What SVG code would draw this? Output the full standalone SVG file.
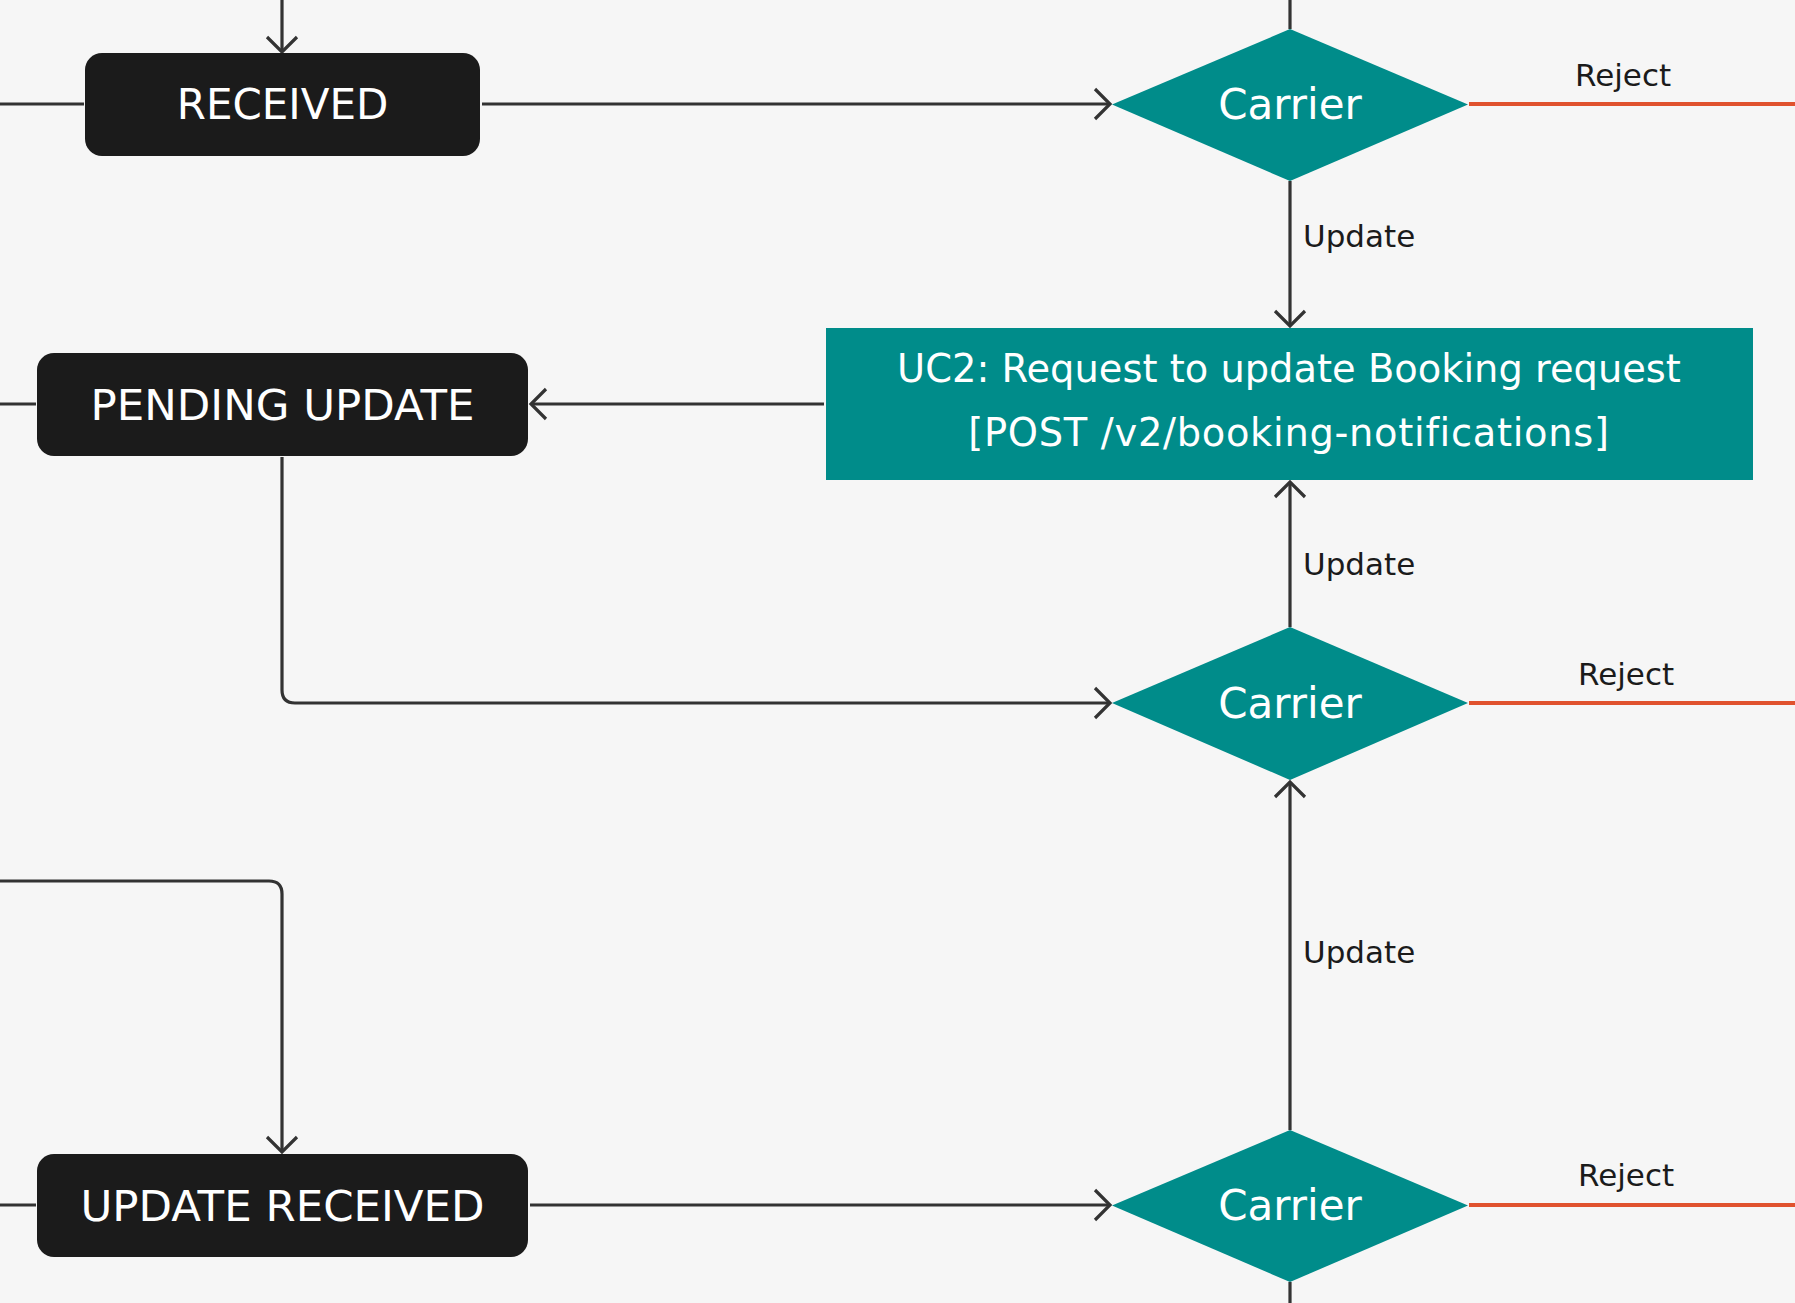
<svg xmlns="http://www.w3.org/2000/svg" width="1795" height="1303" viewBox="0 0 1795 1303">
<defs>
<style>
.bg{fill:#f6f6f6}
.state{fill:#1b1b1b}
.teal{fill:#008c8a}
.st{fill:#ffffff;font-family:"DejaVu Sans",sans-serif;font-size:42px;text-anchor:middle}
.st2{font-size:43.5px}
.uc{fill:#ffffff;font-family:"DejaVu Sans",sans-serif;font-size:38.4px;text-anchor:middle}
.lbl{fill:#1b1b1b;font-family:"DejaVu Sans",sans-serif;font-size:31px}
.ln{fill:none;stroke:#333333;stroke-width:3.2}
.rej{fill:none;stroke:#e0522e;stroke-width:4}
</style>
<marker id="ah" markerUnits="userSpaceOnUse" markerWidth="40" markerHeight="40" viewBox="-20 -20 40 40" refX="0" refY="0" orient="auto">
<path d="M-15,-15 L0,0 L-15,15" fill="none" stroke="#333333" stroke-width="3.2"/>
</marker>
</defs>
<rect class="bg" x="0" y="0" width="1795" height="1303"/>

<g id="connectors">
<path class="ln" d="M282,0 V52" marker-end="url(#ah)"/>
<path class="ln" d="M0,104 H84"/>
<path class="ln" d="M482,104 H1110" marker-end="url(#ah)"/>
<path class="ln" d="M1290,0 V29"/>
<path class="rej" d="M1469,104 H1795"/>
<path class="ln" d="M1290,181 V326" marker-end="url(#ah)"/>
<path class="ln" d="M0,404 H36"/>
<path class="ln" d="M824,404 H531" marker-end="url(#ah)"/>
<path class="ln" d="M282,457 V690 Q282,703 295,703 H1110" marker-end="url(#ah)"/>
<path class="ln" d="M1290,627 V482" marker-end="url(#ah)"/>
<path class="rej" d="M1469,703 H1795"/>
<path class="ln" d="M0,881 H269 Q282,881 282,894 V1152" marker-end="url(#ah)"/>
<path class="ln" d="M0,1205 H36"/>
<path class="ln" d="M530,1205 H1110" marker-end="url(#ah)"/>
<path class="ln" d="M1290,1130 V782" marker-end="url(#ah)"/>
<path class="rej" d="M1469,1205 H1795"/>
<path class="ln" d="M1290,1282 V1303"/>
<text class="lbl" x="1303" y="247">Update</text>
<text class="lbl" x="1303" y="575">Update</text>
<text class="lbl" x="1303" y="963">Update</text>
<text class="lbl" x="1575" y="86">Reject</text>
<text class="lbl" x="1578" y="685">Reject</text>
<text class="lbl" x="1578" y="1186">Reject</text>
</g>

<g id="received">
<rect class="state" x="85" y="53" width="395" height="103" rx="17"/>
<text class="st" x="282.5" y="119">RECEIVED</text>
</g>
<g id="pending-update">
<rect class="state" x="37" y="353" width="491" height="103" rx="17"/>
<text class="st st2" x="282.5" y="420">PENDING UPDATE</text>
</g>
<g id="update-received">
<rect class="state" x="37" y="1154" width="491" height="103" rx="17"/>
<text class="st st2" x="282.5" y="1221">UPDATE RECEIVED</text>
</g>
<g id="carrier-1">
<polygon class="teal" points="1290,29 1468,104.5 1290,181 1112,104.5"/>
<text class="st" x="1290" y="119">Carrier</text>
</g>
<g id="carrier-2">
<polygon class="teal" points="1290,627 1468,703 1290,780 1112,703"/>
<text class="st" x="1290" y="718">Carrier</text>
</g>
<g id="carrier-3">
<polygon class="teal" points="1290,1130 1468,1205.5 1290,1282 1112,1205.5"/>
<text class="st" x="1290" y="1220">Carrier</text>
</g>
<g id="uc2">
<rect class="teal" x="826" y="328" width="927" height="152"/>
<text class="uc" x="1289" y="382">UC2: Request to update Booking request</text>
<text class="uc" x="1289" y="446" letter-spacing="0.7">[POST /v2/booking-notifications]</text>
</g>
</svg>
